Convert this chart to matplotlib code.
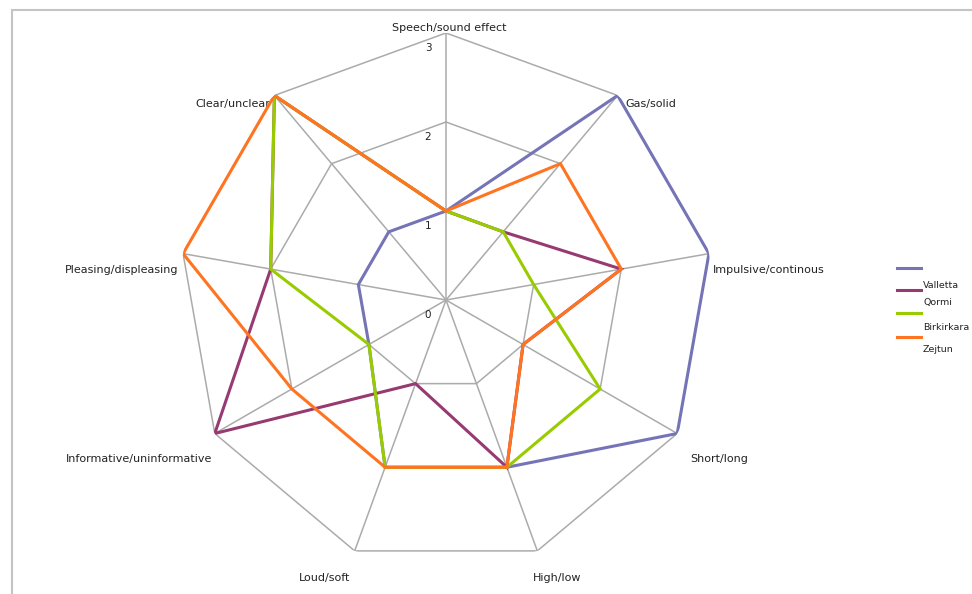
import numpy as np
import matplotlib.pyplot as plt
from matplotlib.lines import Line2D
from matplotlib.patches import Rectangle

# --- data ---
categories = ["Speech/sound effect", "Gas/solid", "Impulsive/continous", "Short/long",
              "High/low", "Loud/soft", "Informative/uninformative",
              "Pleasing/displeasing", "Clear/unclear"]
series_names = ["Valletta", "Qormi", "Birkirkara", "Zejtun"]
valletta = [1, 3, 3, 3, 2, 2, 1, 1, 1]
qormi = [1, 1, 2, 1, 2, 1, 3, 2, 3]
birkirkara = [1, 1, 1, 2, 2, 2, 1, 2, 3]
zejtun = [1, 2, 2, 1, 2, 2, 2, 3, 3]
levels = [0, 1, 2, 3]

colors = ["#7474b6", "#973a72", "#99cc00", "#ff7420"]

# label placement (pixel offsets from the outer ring point, alignment)
label_offsets = [(3, 5, "center"), (8, -9, "left"), (4, -16, "left"), (13, -25, "left"),
                 (20, -27, "center"), (-30, -27, "center"), (-3, -25, "right"),
                 (-5, -16, "right"), (-4, -9, "right")]

fig = plt.figure(figsize=(9.72, 5.94), dpi=100)

# outer chart frame (cut off at right and bottom like the screenshot)
fig.patches.append(Rectangle((12 / 972, -0.1), 1.2, 1.1 - 10 / 594,
                             transform=fig.transFigure, fill=False,
                             edgecolor="#c4c4c4", linewidth=1.5))

ax = fig.add_axes([(446 - 267) / 972, (594 - 300 - 267) / 594, 534 / 972, 534 / 594],
                  projection="polar")
ax.set_theta_zero_location("N")
ax.set_theta_direction(-1)
ax.set_ylim(0, 3)
ax.set_xticks([])
ax.set_yticks([])
ax.grid(False)
ax.spines["polar"].set_visible(False)
ax.patch.set_alpha(0)

n = len(categories)
theta = np.arange(n) * 2 * np.pi / n
theta_closed = np.append(theta, theta[0])

grid_col = "#ababab"
for lv in levels[1:]:
    ax.plot(theta_closed, [lv] * (n + 1), color=grid_col, lw=1.1, zorder=1)
for t in theta:
    ax.plot([t, t], [0, levels[-1]], color=grid_col, lw=1.1, zorder=1)

for lv in levels:
    ax.annotate(str(lv), xy=(0, lv), xytext=(-18, -15), textcoords="offset pixels",
                ha="center", va="center", fontsize=7.5, color="#222222")

for t, lab, (dx, dy, ha) in zip(theta, categories, label_offsets):
    ax.annotate(lab, xy=(t, levels[-1]), xytext=(dx, dy), textcoords="offset pixels",
                ha=ha, va="center", fontsize=8, color="#222222", annotation_clip=False)

all_series = [valletta, qormi, birkirkara, zejtun]
for vals, col in zip(all_series, colors):
    ax.plot(theta_closed, vals + vals[:1], color=col, lw=2.2, zorder=3,
            solid_joinstyle="miter")

# legend drawn like the Excel one (text sits a bit below each swatch)
line_y = [268, 290, 313, 337]
text_y = [285, 303, 328, 350]
for name, col, ly, ty in zip(series_names, colors, line_y, text_y):
    fig.lines.append(Line2D([897 / 972, 921 / 972], [1 - ly / 594, 1 - ly / 594],
                            transform=fig.transFigure, color=col, lw=2.2))
    fig.text(923 / 972, 1 - ty / 594, name, fontsize=6.8, va="center", color="#222222")

fig.savefig("out.png", dpi=100)
